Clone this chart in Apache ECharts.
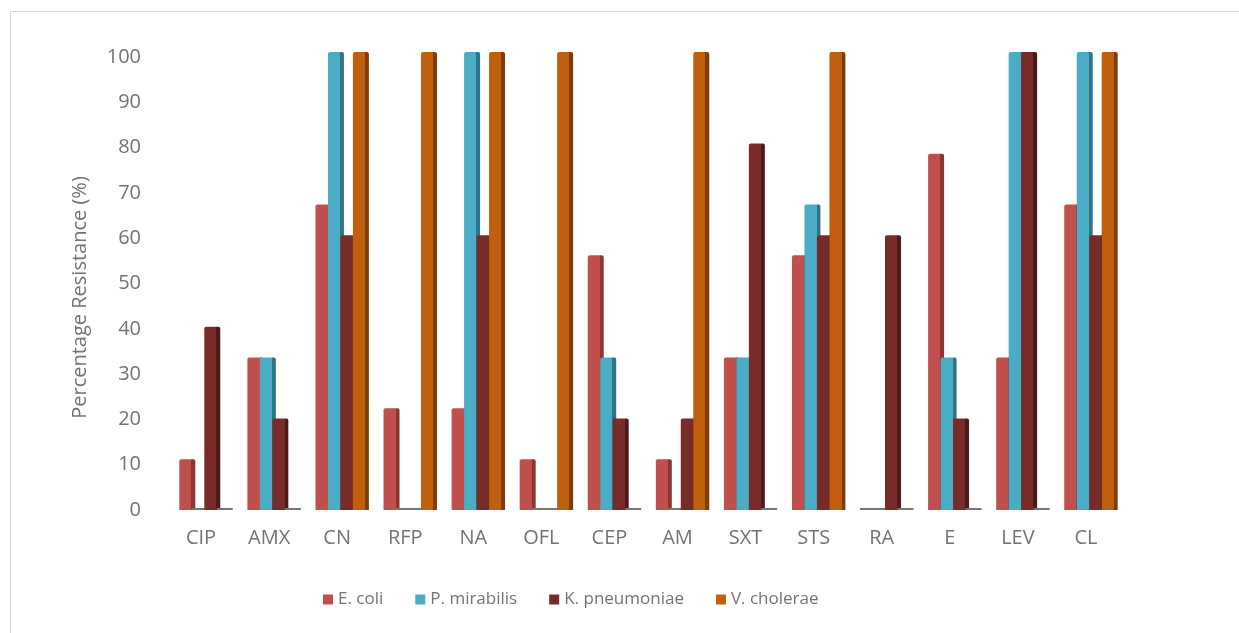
<!DOCTYPE html>
<html>
<head>
<meta charset="utf-8">
<title>Percentage Resistance</title>
<script src="https://cdn.jsdelivr.net/npm/echarts@6/dist/echarts.min.js"></script>
<style>
  html, body { margin: 0; padding: 0; background: #ffffff; }
  #chart { width: 1239px; height: 633px; }
</style>
</head>
<body>
<div id="chart"></div>
<script>
// Antibiotics tested
const categories = ['CIP', 'AMX', 'CN', 'RFP', 'NA', 'OFL', 'CEP', 'AM', 'SXT', 'STS', 'RA', 'E', 'LEV', 'CL'];

// Percentage of resistant isolates per organism
const eColi       = [11.1, 33.3, 66.7, 22.2, 22.2, 11.1, 55.6, 11.1, 33.3, 55.6, 0, 77.8, 33.3, 66.7];
const pMirabilis  = [0, 33.3, 100, 0, 100, 0, 33.3, 0, 33.3, 66.7, 0, 33.3, 100, 100];
const kPneumoniae = [40, 20, 60, 0, 60, 0, 20, 20, 80, 60, 60, 20, 100, 60];
const vCholerae   = [0, 0, 100, 100, 100, 100, 0, 100, 0, 100, 0, 0, 0, 100];

const seriesNames = ['E. coli', 'P. mirabilis', 'K. pneumoniae', 'V. cholerae'];
const yTicks = [0, 10, 20, 30, 40, 50, 60, 70, 80, 90, 100];

const palette = [
  { face: '#c0504d', side: '#8e3532' },
  { face: '#4bacc6', side: '#2f7386' },
  { face: '#772c2a', side: '#4c1a19' },
  { face: '#c0600e', side: '#7f3c05' }
];

const chart = echarts.init(document.getElementById('chart'), null, { renderer: 'canvas' });

// Each column has a lit front face and a darker right-hand side face
function columnFill(p) {
  return new echarts.graphic.LinearGradient(0, 0, 1, 0, [
    { offset: 0, color: p.face },
    { offset: 0.76, color: p.face },
    { offset: 0.76, color: p.side },
    { offset: 1, color: p.side }
  ]);
}

function buildSeries(name, values, p) {
  return {
    name: name,
    type: 'bar',
    xAxisIndex: 0,
    yAxisIndex: 0,
    barWidth: 16,
    barGap: '-22%',
    barMinHeight: 2,
    itemStyle: { color: columnFill(p), borderRadius: [2, 2, 0, 0] },
    // zero values show only the flat grey floor of the column
    data: values.map(v => v === 0 ? { value: 0, itemStyle: { color: '#7b7570', borderRadius: 0 } } : v),
    emphasis: { disabled: true }
  };
}

const fontFamily = '"Open Sans", "Noto Sans", sans-serif';
const axisFont = { fontFamily: fontFamily, fontSize: 20, color: '#737373' };
const legendFont = { fontFamily: fontFamily, fontSize: 17, color: '#737373' };

const option = {
  backgroundColor: '#ffffff',
  animation: false,
  graphic: [{
    type: 'rect',
    shape: { x: 10.5, y: 11.5, width: 1400, height: 800 },
    style: { fill: 'none', stroke: '#d9d9d9', lineWidth: 1 },
    silent: true
  }],
  grid: [
    { left: 172, top: 52, width: 953, height: 458 },
    { left: 167, top: 57, width: 953, height: 453 }
  ],
  xAxis: [
    {
      gridIndex: 0, type: 'category', data: categories,
      axisLine: { show: false }, axisTick: { show: false }, axisLabel: { show: false }, splitLine: { show: false }
    },
    {
      gridIndex: 1, type: 'category', data: categories,
      axisLine: { show: false }, axisTick: { show: false }, splitLine: { show: false },
      axisLabel: Object.assign({ margin: 18 }, axisFont)
    }
  ],
  yAxis: [
    {
      gridIndex: 0, type: 'value', min: 0, max: 100, interval: 10,
      axisLine: { show: false }, axisTick: { show: false }, axisLabel: { show: false }, splitLine: { show: false }
    },
    {
      gridIndex: 1, type: 'value', min: yTicks[0], max: yTicks[yTicks.length - 1], interval: yTicks[1] - yTicks[0],
      axisLine: { show: false }, axisTick: { show: false }, splitLine: { show: false },
      axisLabel: Object.assign({ margin: 26 }, axisFont),
      name: 'Percentage Resistance (%)',
      nameLocation: 'middle',
      nameRotate: 90,
      nameGap: 77,
      nameTextStyle: Object.assign({ padding: [0, 28, 0, 0] }, axisFont)
    }
  ],
  legend: {
    bottom: 20,
    left: 318,
    icon: 'rect',
    itemWidth: 10,
    itemHeight: 10,
    itemGap: 32,
    textStyle: legendFont,
    selectedMode: false,
    data: seriesNames.map((n, i) => ({ name: n, itemStyle: { color: palette[i].face } }))
  },
  series: [
    buildSeries(seriesNames[0], eColi, palette[0]),
    buildSeries(seriesNames[1], pMirabilis, palette[1]),
    buildSeries(seriesNames[2], kPneumoniae, palette[2]),
    buildSeries(seriesNames[3], vCholerae, palette[3])
  ]
};

chart.setOption(option);
</script>
</body>
</html>
